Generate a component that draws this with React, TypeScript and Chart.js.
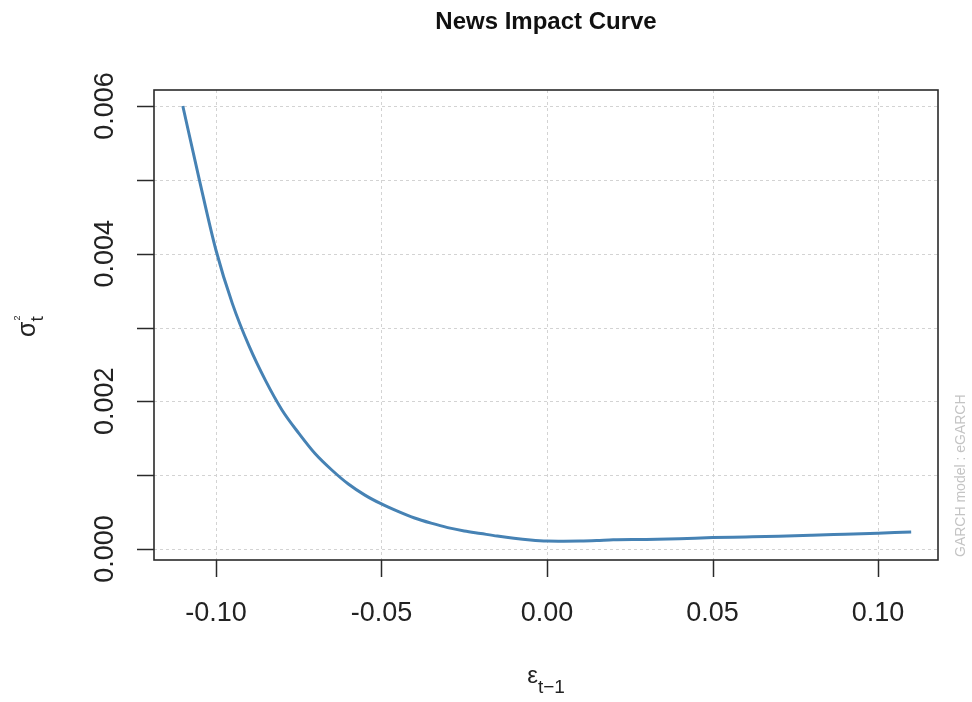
import React, { useEffect, useRef } from 'react';
import { Chart, registerables } from 'chart.js';
Chart.register(...registerables);

// ---- data ----
const epsilon = [-0.110, -0.105, -0.100, -0.095, -0.090, -0.085, -0.080, -0.075, -0.070, -0.065, -0.060, -0.055, -0.050, -0.045, -0.040, -0.035, -0.030, -0.025, -0.020, -0.015, -0.010, -0.005, 0.000, 0.005, 0.010, 0.015, 0.020, 0.030, 0.040, 0.050, 0.060, 0.070, 0.080, 0.090, 0.100, 0.110];
const sigma2 = [0.00600, 0.00500, 0.00405, 0.00332, 0.00275, 0.00228, 0.00188, 0.00157, 0.00129, 0.00107, 0.00088, 0.00073, 0.00061, 0.00051, 0.00042, 0.00035, 0.00029, 0.000245, 0.00021, 0.000175, 0.000145, 0.000122, 0.000108, 0.000106, 0.000108, 0.000115, 0.000125, 0.00013, 0.00014, 0.000155, 0.000163, 0.000172, 0.000185, 0.0002, 0.000215, 0.00023];

const xTicks = [-0.10, -0.05, 0.00, 0.05, 0.10];
const xTickLabels = ['-0.10', '-0.05', '0.00', '0.05', '0.10'];
const yTicks = [0, 0.001, 0.002, 0.003, 0.004, 0.005, 0.006];
const yTickLabels = ['0.000', '', '0.002', '', '0.004', '', '0.006'];
const xRange = [-0.1187, 0.1181];
const yRange = [-0.000149, 0.006217];

const titleText = 'News Impact Curve';
const watermark = 'GARCH model : eGARCH';

const FONT = '"Liberation Sans", Arial, sans-serif';

const decorPlugin = {
  id: 'decor',
  beforeDatasetsDraw(chart: any) {
    const { ctx, chartArea: a, scales } = chart;
    ctx.save();
    ctx.strokeStyle = '#d3d3d3';
    ctx.lineWidth = 1;
    ctx.setLineDash([3, 3]);
    xTicks.forEach((v) => {
      const x = Math.round(scales.x.getPixelForValue(v)) + 0.5;
      ctx.beginPath();
      ctx.moveTo(x, a.top);
      ctx.lineTo(x, a.bottom);
      ctx.stroke();
    });
    yTicks.forEach((v) => {
      const y = Math.round(scales.y.getPixelForValue(v)) + 0.5;
      ctx.beginPath();
      ctx.moveTo(a.left, y);
      ctx.lineTo(a.right, y);
      ctx.stroke();
    });
    ctx.restore();
  },
  afterDatasetsDraw(chart: any) {
    const { ctx, chartArea: a, scales } = chart;
    ctx.save();
    // box
    ctx.strokeStyle = '#2a2a2a';
    ctx.lineWidth = 1.6;
    ctx.setLineDash([]);
    ctx.strokeRect(a.left, a.top, a.right - a.left, a.bottom - a.top);
    // ticks
    ctx.lineWidth = 1.5;
    xTicks.forEach((v) => {
      const x = Math.round(scales.x.getPixelForValue(v)) + 0.5;
      ctx.beginPath();
      ctx.moveTo(x, a.bottom);
      ctx.lineTo(x, a.bottom + 17);
      ctx.stroke();
    });
    yTicks.forEach((v) => {
      const y = Math.round(scales.y.getPixelForValue(v)) + 0.5;
      ctx.beginPath();
      ctx.moveTo(a.left, y);
      ctx.lineTo(a.left - 17, y);
      ctx.stroke();
    });
    // tick labels
    ctx.fillStyle = '#222';
    ctx.font = `27px ${FONT}`;
    ctx.textAlign = 'center';
    ctx.textBaseline = 'alphabetic';
    xTicks.forEach((v, i) => {
      ctx.fillText(xTickLabels[i], scales.x.getPixelForValue(v), 621);
    });
    yTicks.forEach((v, i) => {
      if (!yTickLabels[i]) return;
      ctx.save();
      ctx.translate(113, scales.y.getPixelForValue(v));
      ctx.rotate(-Math.PI / 2);
      ctx.fillText(yTickLabels[i], 0, 0);
      ctx.restore();
    });
    // title
    const cx = (a.left + a.right) / 2;
    ctx.font = `bold 24px ${FONT}`;
    ctx.fillStyle = '#111';
    ctx.fillText(titleText, cx, 29);
    // x axis title: epsilon_{t-1}
    ctx.fillStyle = '#222';
    ctx.textAlign = 'left';
    ctx.font = `24px ${FONT}`;
    const wE = ctx.measureText('ε').width;
    ctx.font = `19px ${FONT}`;
    const wS = ctx.measureText('t−1').width;
    const x0 = cx - (wE + wS) / 2;
    ctx.font = `24px ${FONT}`;
    ctx.fillText('ε', x0, 683);
    ctx.font = `19px ${FONT}`;
    ctx.fillText('t−1', x0 + wE, 693);
    // y axis title: sigma_t^2 (rotated)
    ctx.save();
    ctx.translate(35, 337);
    ctx.rotate(-Math.PI / 2);
    ctx.font = `25px ${FONT}`;
    const wSig = ctx.measureText('σ').width;
    ctx.fillText('σ', 0, 0);
    ctx.font = `19px ${FONT}`;
    ctx.fillText('t', wSig, 8);
    ctx.font = `9px ${FONT}`;
    ctx.fillText('2', wSig + 1, -15);
    ctx.restore();
    // watermark
    ctx.save();
    ctx.translate(965, a.bottom - 3);
    ctx.rotate(-Math.PI / 2);
    ctx.font = `14px ${FONT}`;
    ctx.fillStyle = '#c4c4c4';
    ctx.textAlign = 'left';
    ctx.fillText(watermark, 0, 0);
    ctx.restore();
    ctx.restore();
  },
};

export default function App() {
  const ref = useRef<HTMLCanvasElement | null>(null);
  useEffect(() => {
    if (!ref.current) return;
    const chart = new Chart(ref.current, {
      type: 'line',
      data: {
        datasets: [
          {
            data: epsilon.map((e, i) => ({ x: e, y: sigma2[i] })),
            borderColor: '#4682B4',
            borderWidth: 3,
            pointRadius: 0,
            cubicInterpolationMode: 'monotone',
            fill: false,
          },
        ],
      },
      options: {
        animation: false,
        responsive: false,
        maintainAspectRatio: false,
        layout: { padding: { left: 154, right: 34, top: 90, bottom: 142 } },
        plugins: { legend: { display: false }, tooltip: { enabled: false } },
        scales: {
          x: { type: 'linear', min: xRange[0], max: xRange[1], display: false },
          y: { type: 'linear', min: yRange[0], max: yRange[1], display: false },
        },
      },
      plugins: [decorPlugin],
    });
    return () => chart.destroy();
  }, []);
  return (
    <div style={{ position: 'fixed', left: 0, top: 0, width: 972, height: 702, background: '#fff' }}>
      <canvas ref={ref} width={972} height={702} style={{ width: 972, height: 702 }} />
    </div>
  );
}
